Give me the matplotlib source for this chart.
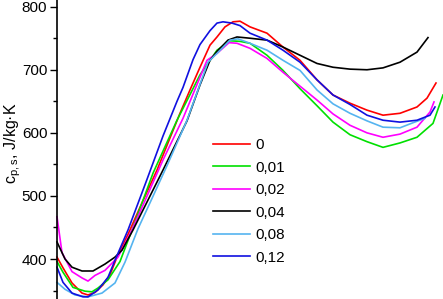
import matplotlib
matplotlib.use("Agg")
import matplotlib.pyplot as plt
from matplotlib.ticker import MultipleLocator

plt.rcParams['font.family'] = ['Liberation Sans', 'DejaVu Sans']

labels = ["0", "0,01", "0,02", "0,04", "0,08", "0,12"]
colors = ["#ff0000", "#00e000", "#ff00ff", "#000000", "#55b4f0", "#1010e0"]

red_x = [57,63,72,82,88,95,103,110,117,128,140,157,170,180,190,200,210,217,225,233,240,250,267,283,300,317,333,350,367,383,400,417,427,436]
red_y = [403,386,362,346,343,347,359,375,403,439,482,541,592,631,668,704,739,752,768,776,777,768,758,736,715,684,660,647,636,628,631,641,655,679]

green_x = [57,63,73,85,92,98,108,120,132,153,177,200,217,230,240,250,267,283,300,317,333,350,367,383,400,417,433,443]
green_y = [396,379,355,349,348,354,367,396,446,536,620,692,731,746,745,742,723,699,670,643,617,597,586,577,584,593,615,660]

magenta_x = [57,62,72,82,88,95,105,113,118,132,163,183,207,217,229,237,250,267,283,300,317,333,350,367,383,400,417,430,434]
magenta_y = [467,410,380,370,365,374,382,395,403,446,557,623,715,726,743,742,734,718,696,674,652,630,612,600,593,598,609,633,649]

black_x = [57,65,72,82,93,105,115,122,133,163,187,200,210,217,228,237,250,267,283,300,317,333,350,367,383,400,417,428]
black_y = [427,400,387,381,381,392,403,414,446,541,619,676,715,729,747,752,750,747,736,723,710,704,701,700,703,712,728,751]

lightblue_x = [57,65,75,88,102,115,125,138,152,167,187,208,217,230,238,250,267,283,300,317,333,350,367,383,400,413,425]
lightblue_y = [363,352,343,340,346,362,395,448,496,548,620,712,726,747,749,742,731,715,699,668,646,631,619,609,608,616,623]

blue_x = [57,63,72,83,88,98,108,115,128,146,163,177,183,193,200,210,217,223,232,240,250,267,283,300,317,333,350,367,383,400,417,430,435]
blue_y = [387,363,346,340,340,351,371,398,446,522,595,650,672,716,740,762,774,776,774,770,758,747,731,712,684,660,645,628,620,617,620,628,641]

series = [(red_x, red_y), (green_x, green_y), (magenta_x, magenta_y),
          (black_x, black_y), (lightblue_x, lightblue_y), (blue_x, blue_y)]

fig = plt.figure(figsize=(4.43, 2.99), dpi=100)
ax = fig.add_axes([57/443, 0, 1 - 57/443, 1])

for (xs, ys), c, lab in zip(series, colors, labels):
    ax.plot(xs, ys, color=c, lw=1.2, label=lab, clip_on=False)

ax.set_xlim(57, 443)
ax.set_ylim(336.6, 810.6)
for s in ["top", "right", "bottom"]:
    ax.spines[s].set_visible(False)
ax.spines["left"].set_linewidth(1.2)
ax.set_xticks([])
ax.yaxis.set_major_locator(MultipleLocator(100))
ax.yaxis.set_minor_locator(MultipleLocator(50))
ax.tick_params(axis="y", which="major", length=5, width=1.0, labelsize=11, pad=2)
ax.tick_params(axis="y", which="minor", length=3, width=1.0)
ax.set_ylabel(r"$\mathregular{c_{p,s}}$, J/kg·K", fontsize=11.5)
ax.yaxis.set_label_coords((23 - 57) / 386, 1 - 143 / 299)

leg = ax.legend(loc="upper left", bbox_to_anchor=(213/443, 1 - 138/299),
                bbox_transform=fig.transFigure, frameon=False, fontsize=11,
                handlelength=2.4, handletextpad=0.35, labelspacing=0.56,
                borderpad=0, borderaxespad=0)

fig.savefig("out.png", dpi=100)
